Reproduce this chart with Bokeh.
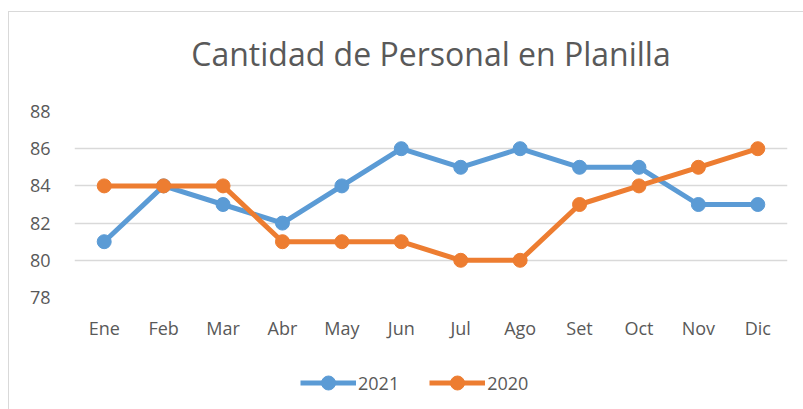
from bokeh.plotting import figure
from bokeh.layouts import column
from bokeh.models import ColumnDataSource, FactorRange, Range1d, Legend, LegendItem, Title, FixedTicker
from bokeh.embed import file_html
from bokeh.resources import INLINE

months = ["Ene", "Feb", "Mar", "Abr", "May", "Jun", "Jul", "Ago", "Set", "Oct", "Nov", "Dic"]
v2021 = [81, 84, 83, 82, 84, 86, 85, 86, 85, 85, 83, 83]
v2020 = [84, 84, 84, 81, 81, 81, 80, 80, 83, 84, 85, 86]
y_ticks = [78, 80, 82, 84, 86, 88]
series_names = ["2021", "2020"]
title_text = "Cantidad de Personal en Planilla"

FONT = "Open Sans"
TXT = "#595959"
BLUE = "#5B9BD5"
ORANGE = "#ED7D31"

src = ColumnDataSource(dict(m=months, a=v2021, b=v2020))

p = figure(width=795, height=340, x_range=FactorRange(*months, range_padding=0),
           y_range=Range1d(78, 88), output_backend="svg", toolbar_location=None,
           min_border_left=65, min_border_right=17, min_border_top=99, min_border_bottom=55)
p.frame_width = 713
p.frame_height = 186

p.outline_line_color = None
p.border_fill_color = "white"
p.background_fill_color = "white"

p.xgrid.grid_line_color = None
p.ygrid.grid_line_color = "#D9D9D9"
p.ygrid.grid_line_width = 1.3
p.yaxis.ticker = FixedTicker(ticks=y_ticks)

for ax in (p.xaxis[0], p.yaxis[0]):
    ax.axis_line_color = None
    ax.major_tick_line_color = None
    ax.minor_tick_line_color = None
    ax.major_label_text_font = FONT
    ax.major_label_text_font_size = "18px"
    ax.major_label_text_color = TXT
p.yaxis.major_label_standoff = 18
p.xaxis.major_label_standoff = 12

p.line("m", "a", source=src, line_color=BLUE, line_width=5)
p.scatter("m", "a", source=src, size=14, fill_color=BLUE, line_color=BLUE)
p.line("m", "b", source=src, line_color=ORANGE, line_width=5)
p.scatter("m", "b", source=src, size=14, fill_color=ORANGE, line_color=ORANGE)

# spacer between frame and title
p.add_layout(Title(text=" ", text_font_size="18px"), "above")
p.add_layout(Title(text=title_text, align="center", text_font=FONT, text_font_size="32px",
                   text_color=TXT, text_font_style="normal"), "above")

# legend strip (same series, drawn out of view; only the legend is visible)
lf = figure(width=795, height=58, x_range=FactorRange(*months), y_range=Range1d(0, 1),
            output_backend="svg", toolbar_location=None, min_border=0)
lf.axis.visible = False
lf.grid.grid_line_color = None
lf.outline_line_color = None
items = []
for name, key, col in zip(series_names, ["a", "b"], [BLUE, ORANGE]):
    ln = lf.line("m", key, source=src, line_color=col, line_width=5)
    sc = lf.scatter("m", key, source=src, size=14, fill_color=col, line_color=col)
    items.append(LegendItem(label=name, renderers=[ln, sc]))
legend = Legend(items=items, orientation="horizontal", location=(226, 10),
                label_text_font=FONT, label_text_font_size="18px", label_text_color=TXT,
                glyph_width=56, glyph_height=35, spacing=30, label_standoff=2,
                background_fill_alpha=0, border_line_color=None, padding=2, margin=0)
lf.add_layout(legend, "center")

layout = column(p, lf, spacing=0,
                styles={"border": "1px solid #D9D9D9", "margin-left": "8px", "margin-top": "11px",
                        "background-color": "white"})

open("out.html", "w").write(file_html(layout, INLINE))
